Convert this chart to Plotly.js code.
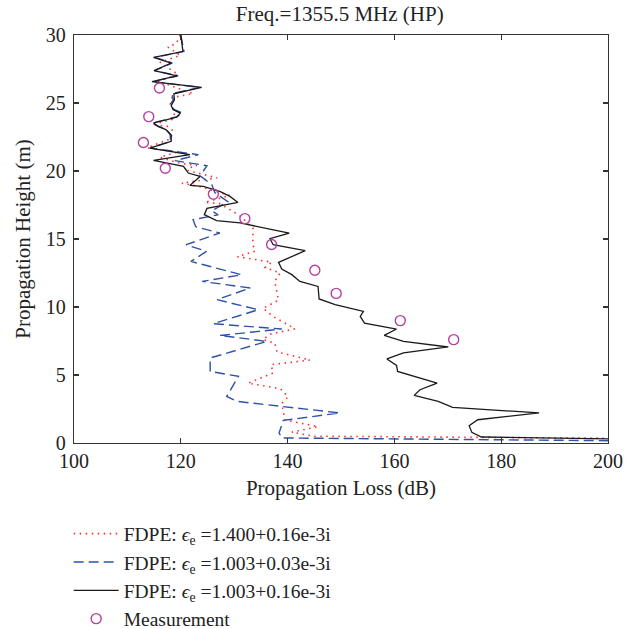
<!DOCTYPE html>
<html>
<head>
<meta charset="utf-8">
<script src="https://cdn.plot.ly/plotly-3.0.1.min.js"></script>
<style>html,body{margin:0;padding:0;background:#fff;}</style>
</head>
<body>
<div id="chart" style="width:635px;height:629px;"></div>
<script>
// Measurement points
const measX = [116.0, 114.0, 113.0, 117.1, 126.1, 132.0, 137.0, 145.1, 149.1, 161.1, 171.1];
const measY = [26.1, 24.0, 22.1, 20.2, 18.3, 16.5, 14.6, 12.7, 11.0, 9.0, 7.6];

// FDPE eps=1.003+0.16e-3i (solid black)
const blackX = [120.0,120.2,120.4,114.9,118.2,115.0,119.3,114.6,123.9,118.7,118.8,118.2,118.6,119.9,119.3,117.4,114.9,115.7,117.2,118.2,118.2,114.2,121.7,114.9,120.5,121.4,123.6,121.7,124.2,127.3,129.2,130.7,124.9,124.4,126.7,131.1,140.3,136.7,137.3,143.3,138.3,138.9,140.8,142.3,145.7,145.9,148.9,154.2,153.6,154.4,160.4,158.1,161.7,170.1,161.7,158.6,160.4,160.6,168.0,164.8,163.7,168.2,170.9,187.1,175.6,174.0,174.5,176.3,200.0];
const blackY = [30.0,29.27,28.78,28.35,27.94,27.38,27.0,26.57,26.15,25.68,25.24,24.8,24.51,24.26,23.97,23.77,23.53,23.28,23.04,22.67,22.18,21.69,21.2,20.78,20.34,19.85,19.6,18.94,18.87,18.5,18.13,17.69,17.25,16.79,16.35,16.18,15.44,15.02,14.58,14.14,13.28,12.79,12.38,11.88,11.51,10.59,10.17,9.68,9.31,8.82,8.38,7.91,7.47,7.06,6.62,6.18,5.71,5.26,4.41,3.92,3.5,3.06,2.62,2.21,1.71,1.27,0.78,0.44,0.3];

// FDPE eps=1.003+0.03e-3i (dashed blue)
const blueX = [120.0,120.3,120.6,115.2,118.4,115.1,119.5,114.8,123.5,118.3,118.6,117.9,118.8,120.3,119.1,117.2,114.7,115.9,117.3,118.0,118.1,114.3,123.3,118.9,124.9,123.6,125.8,126.4,128.8,125.8,127.0,122.3,122.8,127.3,121.0,124.8,121.9,131.4,124.0,133.0,126.8,134.5,126.1,138.9,127.3,136.1,125.5,125.5,130.8,128.6,130.5,149.8,139.2,138.4,138.9,200.0];
const blueY = [30.0,29.3,28.8,28.35,27.94,27.38,27.0,26.57,26.15,25.68,25.24,24.8,24.51,24.26,23.97,23.77,23.53,23.28,23.04,22.67,22.18,21.69,21.2,20.76,20.39,19.65,19.0,18.4,17.75,17.07,16.78,16.42,15.9,15.44,14.58,14.09,13.35,12.37,11.88,11.4,10.54,9.8,8.77,8.38,7.91,7.47,6.25,5.26,4.9,3.43,3.06,2.21,1.66,0.74,0.37,0.17];

// FDPE eps=1.400+0.16e-3i (dotted red)
const redX = [119.85,119.2,117.6,119.9,116.1,119.5,115.7,122.3,118.4,118.0,118.9,118.4,114.6,117.4,118.4,118.2,113.7,119.3,116.1,119.5,123.0,120.6,126.8,120.2,123.6,127.3,129.2,124.5,127.3,128.6,131.1,133.5,133.5,133.9,130.6,137.0,135.8,138.6,137.6,138.3,135.4,137.3,141.4,136.7,135.4,137.6,138.0,144.2,136.9,137.3,132.6,138.6,140.1,138.9,139.2,139.5,145.7,140.8,144.8,200.0];
const redY = [30.0,29.4,29.1,28.5,28.0,27.1,26.6,25.7,25.4,24.9,24.3,23.8,23.4,23.3,23.0,22.4,21.7,21.4,21.0,20.6,20.4,20.1,19.5,19.1,18.85,18.4,18.2,17.7,17.6,17.3,16.7,15.8,14.6,14.1,13.7,13.3,12.9,12.5,11.9,10.5,9.9,9.3,8.4,8.0,7.6,7.35,6.7,6.1,5.76,5.15,4.4,4.0,3.4,2.9,2.2,1.7,1.2,0.8,0.5,0.35];

const legendNames = [
  'FDPE: <i>ϵ</i><sub>e</sub> =1.400+0.16e-3i',
  'FDPE: <i>ϵ</i><sub>e</sub> =1.003+0.03e-3i',
  'FDPE: <i>ϵ</i><sub>e</sub> =1.003+0.16e-3i',
  'Measurement'
];
const xTicks = [100, 120, 140, 160, 180, 200];
const yTicks = [0, 5, 10, 15, 20, 25, 30];

const serif = 'Liberation Serif, Times New Roman, serif';

const traces = [
  {x: redX, y: redY, mode: 'lines', name: legendNames[0],
   line: {color: '#ff2a2a', width: 1.6, dash: '1.5px,4.5px'}},
  {x: blueX, y: blueY, mode: 'lines', name: legendNames[1],
   line: {color: '#2d52a8', width: 1.4, dash: '10px,5px'}},
  {x: blackX, y: blackY, mode: 'lines', name: legendNames[2],
   line: {color: '#1a1a1a', width: 1.3}},
  {x: measX, y: measY, mode: 'markers', name: legendNames[3],
   marker: {symbol: 'circle-open', size: 10, color: '#b5419f', line: {width: 1.4, color: '#b5419f'}}}
];

const axisCommon = {
  showgrid: false, zeroline: false, showline: true, mirror: 'ticks',
  linecolor: '#333', linewidth: 1.3, ticks: 'inside', ticklen: 5, tickwidth: 1.2, tickcolor: '#333',
  tickfont: {family: serif, size: 20, color: '#222'}
};

const layout = {
  width: 635, height: 629,
  margin: {l: 74, r: 27, t: 35, b: 186, autoexpand: false},
  paper_bgcolor: '#fff', plot_bgcolor: '#fff',
  font: {family: serif, color: '#222'},
  title: {text: 'Freq.=1355.5 MHz (HP)', font: {family: serif, size: 21, color: '#222'},
          x: 0.535, xanchor: 'center', y: 0.979, yanchor: 'middle'},
  xaxis: Object.assign({}, axisCommon, {
    range: [100, 200], tickvals: xTicks, ticktext: xTicks.map(String),
    title: {text: 'Propagation Loss (dB)', font: {family: serif, size: 21, color: '#222'}, standoff: 9}
  }),
  yaxis: Object.assign({}, axisCommon, {
    range: [0, 30], tickvals: yTicks, ticktext: yTicks.map(String), ticklabelstandoff: 3,
    title: {text: 'Propagation Height (m)', font: {family: serif, size: 21, color: '#222'}, standoff: 9}
  }),
  showlegend: true,
  legend: {x: -0.01, xanchor: 'left', y: -0.175, yanchor: 'top',
           font: {family: serif, size: 19.5, color: '#222'},
           bgcolor: 'rgba(0,0,0,0)', tracegroupgap: 0, itemwidth: 45}
};

Plotly.newPlot('chart', traces, layout, {displayModeBar: false, staticPlot: true});
</script>
</body>
</html>
